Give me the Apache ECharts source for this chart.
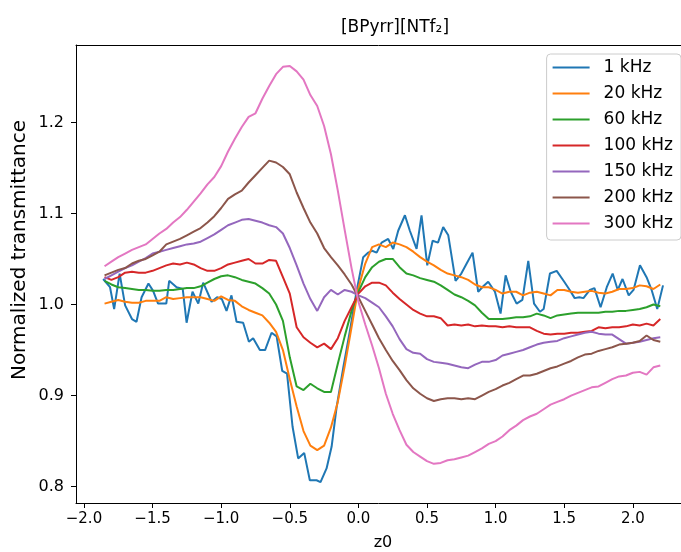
<!DOCTYPE html>
<html><head><meta charset="utf-8">
<script src="https://cdn.jsdelivr.net/npm/echarts@6/dist/echarts.min.js"></script>
<style>html,body{margin:0;padding:0;background:#fff}#c{width:681px;height:552px}</style>
</head><body><div id="c"></div>
<script>
const seriesNames = ["1 kHz","20 kHz","60 kHz","100 kHz","150 kHz","200 kHz","300 kHz"];
const xTicks = [-2.0,-1.5,-1.0,-0.5,0.0,0.5,1.0,1.5,2.0];
const yTicks = [0.8,0.9,1.0,1.1,1.2];
const z0 = [-1.85,-1.80,-1.75,-1.70,-1.65,-1.60,-1.55,-1.50,-1.45,-1.40,-1.35,-1.30,-1.25,-1.20,-1.15,-1.10,-1.05,-1.00,-0.95,-0.90,-0.85,-0.80,-0.75,-0.70,-0.65,-0.60,-0.55,-0.50,-0.45,-0.40,-0.35,-0.30,-0.25,-0.20,-0.15,-0.10,-0.05,0.00,0.05,0.10,0.15,0.20,0.25,0.30,0.35,0.40,0.45,0.50,0.55,0.60,0.65,0.70,0.75,0.80,0.85,0.90,0.95,1.00,1.05,1.10,1.15,1.20,1.25,1.30,1.35,1.40,1.45,1.50,1.55,1.60,1.65,1.70,1.75,1.80,1.85,1.90,1.95,2.00,2.05,2.10,2.15,2.20];
// 1 kHz has its own (denser) sampling
const z0_1k = [-1.86,-1.81,-1.78,-1.74,-1.70,-1.65,-1.617,-1.58,-1.53,-1.496,-1.46,-1.40,-1.379,-1.325,-1.28,-1.252,-1.209,-1.167,-1.131,-1.07,-1.03,-0.995,-0.961,-0.925,-0.888,-0.84,-0.798,-0.767,-0.718,-0.68,-0.633,-0.596,-0.555,-0.52,-0.48,-0.439,-0.395,-0.354,-0.305,-0.276,-0.232,-0.195,-0.159,-0.11,-0.062,-0.014,0.035,0.072,0.10,0.133,0.169,0.217,0.254,0.29,0.339,0.375,0.424,0.46,0.502,0.541,0.58,0.618,0.655,0.708,0.75,0.789,0.832,0.873,0.91,0.946,0.995,1.036,1.073,1.11,1.153,1.195,1.238,1.28,1.323,1.35,1.396,1.445,1.50,1.54,1.576,1.61,1.64,1.687,1.72,1.765,1.81,1.853,1.89,1.925,1.97,2.005,2.052,2.10,2.137,2.178,2.22];
const t1k = [1.028,1.019,0.995,1.034,0.999,0.984,0.981,1.008,1.023,1.015,1.001,1.001,1.026,1.019,1.017,0.980,1.014,1.001,1.024,1.003,1.008,1.006,0.993,1.010,0.981,0.980,0.959,0.963,0.950,0.950,0.969,0.965,0.927,0.924,0.866,0.831,0.837,0.807,0.807,0.805,0.820,0.844,0.887,0.931,0.971,1.014,1.052,1.057,1.059,1.057,1.068,1.072,1.061,1.081,1.098,1.081,1.061,1.098,1.043,1.070,1.068,1.085,1.076,1.026,1.034,1.045,1.057,1.014,1.020,1.025,1.014,0.990,1.032,1.014,1.001,1.005,1.048,1.001,0.992,0.995,1.034,1.037,1.025,1.016,1.007,1.008,1.007,1.016,1.018,0.997,1.019,1.034,1.016,1.028,1.010,1.016,1.043,1.030,1.016,0.995,1.021];
const t20k = [1.001,1.003,1.005,1.003,1.002,1.002,1.004,1.004,1.004,1.008,1.006,1.007,1.008,1.008,1.008,1.006,1.004,1.009,1.005,1.004,0.998,0.994,0.991,0.988,0.980,0.970,0.950,0.918,0.888,0.861,0.845,0.840,0.845,0.865,0.893,0.932,0.975,1.018,1.045,1.063,1.066,1.063,1.068,1.066,1.063,1.058,1.052,1.047,1.043,1.038,1.034,1.032,1.030,1.027,1.022,1.019,1.019,1.016,1.012,1.014,1.014,1.010,1.013,1.014,1.012,1.010,1.016,1.016,1.014,1.013,1.014,1.015,1.013,1.012,1.014,1.017,1.017,1.018,1.021,1.020,1.017,1.022];
const t60k = [1.026,1.022,1.019,1.018,1.017,1.016,1.016,1.015,1.015,1.016,1.016,1.017,1.018,1.018,1.020,1.024,1.028,1.031,1.032,1.030,1.027,1.025,1.023,1.018,1.012,1.000,0.982,0.942,0.910,0.906,0.913,0.908,0.904,0.904,0.935,0.965,0.993,1.014,1.030,1.041,1.047,1.050,1.050,1.041,1.034,1.032,1.029,1.027,1.025,1.021,1.016,1.011,1.008,1.004,0.999,0.991,0.984,0.984,0.984,0.985,0.986,0.986,0.987,0.990,0.988,0.985,0.988,0.989,0.990,0.991,0.991,0.991,0.991,0.992,0.992,0.993,0.993,0.994,0.995,0.997,1.000,0.998];
const t100k = [1.030,1.027,1.030,1.035,1.036,1.035,1.035,1.037,1.040,1.043,1.045,1.044,1.046,1.044,1.040,1.037,1.037,1.040,1.044,1.046,1.048,1.050,1.045,1.045,1.049,1.048,1.030,1.012,0.975,0.964,0.958,0.953,0.957,0.951,0.963,0.982,0.997,1.012,1.020,1.024,1.024,1.021,1.013,1.006,1.000,0.994,0.990,0.987,0.987,0.985,0.977,0.978,0.977,0.978,0.976,0.977,0.976,0.976,0.975,0.976,0.975,0.975,0.975,0.971,0.968,0.967,0.968,0.968,0.969,0.969,0.970,0.971,0.975,0.974,0.975,0.975,0.976,0.978,0.977,0.979,0.977,0.984];
const t150k = [1.028,1.032,1.036,1.040,1.043,1.047,1.051,1.056,1.058,1.060,1.062,1.064,1.066,1.067,1.069,1.073,1.077,1.082,1.087,1.090,1.093,1.094,1.092,1.090,1.087,1.085,1.078,1.062,1.043,1.023,1.006,0.993,1.008,1.016,1.011,1.016,1.014,1.010,1.007,1.002,0.997,0.987,0.976,0.962,0.951,0.947,0.946,0.940,0.937,0.936,0.935,0.933,0.931,0.930,0.934,0.937,0.937,0.939,0.944,0.946,0.948,0.950,0.953,0.956,0.958,0.959,0.960,0.963,0.965,0.967,0.969,0.970,0.968,0.967,0.967,0.962,0.957,0.958,0.959,0.961,0.963,0.964];
const t200k = [1.032,1.035,1.038,1.040,1.045,1.048,1.050,1.054,1.058,1.066,1.069,1.072,1.076,1.080,1.084,1.090,1.097,1.106,1.116,1.121,1.125,1.134,1.142,1.150,1.158,1.156,1.151,1.143,1.123,1.106,1.090,1.078,1.062,1.052,1.043,1.033,1.022,1.008,0.993,0.978,0.963,0.950,0.938,0.928,0.917,0.908,0.902,0.897,0.894,0.896,0.897,0.897,0.896,0.897,0.896,0.900,0.904,0.907,0.911,0.914,0.918,0.922,0.922,0.924,0.927,0.930,0.932,0.935,0.938,0.942,0.945,0.946,0.949,0.951,0.953,0.956,0.957,0.958,0.960,0.966,0.961,0.959];
const t300k = [1.042,1.047,1.052,1.056,1.060,1.063,1.066,1.072,1.078,1.083,1.090,1.096,1.104,1.113,1.122,1.132,1.140,1.152,1.168,1.182,1.195,1.206,1.210,1.226,1.240,1.253,1.261,1.262,1.256,1.247,1.230,1.218,1.196,1.165,1.125,1.082,1.040,1.003,0.978,0.955,0.930,0.902,0.880,0.862,0.846,0.838,0.833,0.828,0.825,0.826,0.829,0.830,0.832,0.834,0.838,0.842,0.847,0.850,0.855,0.862,0.867,0.873,0.877,0.880,0.885,0.890,0.893,0.896,0.900,0.903,0.906,0.909,0.910,0.914,0.918,0.921,0.922,0.925,0.926,0.923,0.931,0.933];

const colors = ['#1f77b4','#ff7f0e','#2ca02c','#d62728','#9467bd','#8c564b','#e377c2'];
const FONT = 'DejaVu Sans';
const TXT = '#000000';
const pair = (xs, ys) => xs.map((x, i) => [x, ys[i]]);
const seriesData = [pair(z0_1k, t1k), pair(z0, t20k), pair(z0, t60k), pair(z0, t100k), pair(z0, t150k), pair(z0, t200k), pair(z0, t300k)];
const fmt = v => (v < 0 ? '\u2212' : '') + Math.abs(v).toFixed(1);
const XMIN = -2.058, XMAX = 2.351;

const chart = echarts.init(document.getElementById('c'), null, {renderer: 'canvas'});
chart.setOption({
  animation: false,
  backgroundColor: '#ffffff',
  color: colors,
  grid: {left: 76, top: 45, right: 0, bottom: 49, show: false},
  xAxis: [{
    type: 'value', min: XMIN, max: XMAX, position: 'bottom',
    axisLine: {show: true, onZero: false, lineStyle: {color: '#000', width: 1}},
    axisTick: {show: true, inside: false, length: 5, lineStyle: {color: '#000'}, customValues: xTicks},
    axisLabel: {color: TXT, fontFamily: FONT, fontSize: 15, margin: 9, customValues: xTicks, formatter: fmt},
    splitLine: {show: false}
  }, {
    type: 'value', min: XMIN, max: XMAX, position: 'top',
    axisLine: {show: true, onZero: false, lineStyle: {color: '#000', width: 1}},
    axisTick: {show: false}, axisLabel: {show: false}, splitLine: {show: false}
  }],
  yAxis: {
    type: 'value', min: 0.782, max: 1.285,
    axisLine: {show: true, onZero: false, lineStyle: {color: '#000', width: 1}},
    axisTick: {show: true, inside: false, length: 5, lineStyle: {color: '#000'}, customValues: yTicks},
    axisLabel: {color: TXT, fontFamily: FONT, fontSize: 16, margin: 12, customValues: yTicks, formatter: fmt},
    splitLine: {show: false}
  },
  legend: {
    data: seriesNames, orient: 'vertical', right: 0, top: 54,
    icon: 'rect', itemWidth: 37, itemHeight: 2, itemGap: 9,
    padding: [5, 8, 8, 6],
    backgroundColor: 'rgba(255,255,255,0.8)', borderColor: '#cccccc', borderWidth: 1, borderRadius: 4,
    selectedMode: false,
    textStyle: {fontFamily: FONT, fontSize: 17, lineHeight: 17, color: TXT, padding: [0, 0, 0, 9]}
  },
  graphic: [
    {type: 'text', x: 395, y: 28, style: {text: '[BPyrr][NTf\u2082]', font: '17px "DejaVu Sans"', fill: TXT, textAlign: 'center', textVerticalAlign: 'middle'}},
    {type: 'text', x: 383, y: 543, style: {text: 'z0', font: '16px "DejaVu Sans"', fill: TXT, textAlign: 'center', textVerticalAlign: 'middle'}},
    {type: 'text', x: 20, y: 250, rotation: Math.PI / 2, style: {text: 'Normalized transmittance', font: '20px "DejaVu Sans"', fill: TXT, textAlign: 'center', textVerticalAlign: 'middle'}}
  ],
  series: seriesNames.map((n, i) => ({
    name: n, type: 'line', data: seriesData[i], showSymbol: false, symbol: 'none',
    lineStyle: {width: 2, color: colors[i]}, itemStyle: {color: colors[i]}, clip: true
  }))
});
</script></body></html>
